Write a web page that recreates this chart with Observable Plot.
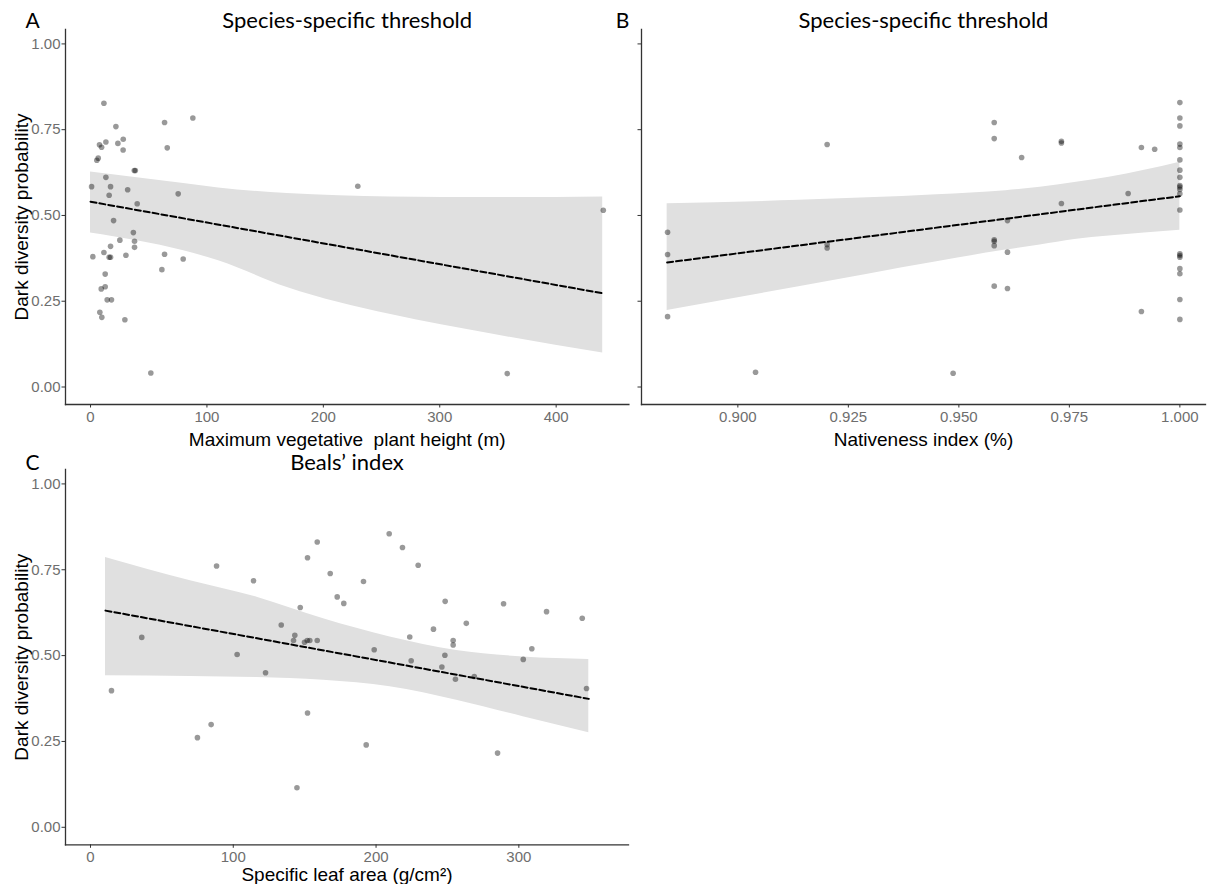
<!DOCTYPE html>
<html><head><meta charset="utf-8">
<script src="https://cdn.jsdelivr.net/npm/d3@7"></script>
<script src="https://cdn.jsdelivr.net/npm/@observablehq/plot@0.6"></script>
<style>
body{margin:0;background:#fff;}
#wrap{position:relative;width:1207px;height:884px;background:#fff;overflow:hidden;}
.panel{position:absolute;}
</style></head><body><div id="wrap"></div>
<script>
// ---------- Panel A: Maximum vegetative plant height ----------
const heightX = [11.5,21.8,7.7,9.5,13.2,23.5,28.1,28.0,5.4,6.6,37.6,38.5,0.9,13.2,17.2,16.0,31.9,40.1,75.3,19.8,36.8,37.8,37.8,25.2,17.2,11.5,2.0,16.0,17.2,30.4,63.6,61.3,79.6,12.6,9.2,12.6,14.3,18.0,8.0,9.7,29.5,51.8,63.6,65.9,87.9,229.6,358,440.5];
const heightProb = [0.827,0.759,0.706,0.699,0.714,0.71,0.722,0.691,0.661,0.667,0.631,0.631,0.584,0.611,0.584,0.559,0.575,0.534,0.563,0.485,0.45,0.425,0.407,0.428,0.41,0.392,0.38,0.378,0.378,0.384,0.387,0.342,0.373,0.329,0.286,0.292,0.254,0.254,0.218,0.203,0.196,0.041,0.771,0.697,0.784,0.585,0.039,0.515];
const heightBandX  = [0, 80, 110, 169, 258, 347, 440];
const heightBandLo = [0.449, 0.397, 0.368, 0.290, 0.211, 0.153, 0.099];
const heightBandHi = [0.627, 0.593, 0.580, 0.564, 0.554, 0.552, 0.554];
const heightFitX = [0, 440];
const heightFitY = [0.540, 0.273];

// ---------- Panel B: Nativeness index ----------
const nativeX = [0.8841,0.8841,0.8841,0.904,0.9202,0.9202,0.9202,0.9487,0.958,0.958,0.958,0.958,0.958,0.958,0.961,0.961,0.961,0.9642,0.9732,0.9732,0.9732,0.9883,0.9913,0.9913,0.9943,
  1,1,1,1,1,1,1,1,1,1,1,1,1,1,1,1,1,1,1,1];
const nativeProb = [0.451,0.386,0.205,0.043,0.707,0.415,0.405,0.040,0.771,0.724,0.429,0.425,0.412,0.294,0.485,0.393,0.287,0.669,0.716,0.711,0.535,0.564,0.698,0.22,0.693,
  0.829,0.784,0.761,0.708,0.698,0.662,0.632,0.611,0.587,0.583,0.576,0.563,0.516,0.388,0.383,0.378,0.345,0.33,0.255,0.197];
const nativeBandX  = [0.884, 0.9138, 0.945, 0.9606, 0.9684, 0.9762, 0.984, 1.0];
const nativeBandLo = [0.223, 0.292, 0.365, 0.399, 0.414, 0.430, 0.440, 0.457];
const nativeBandHi = [0.534, 0.544, 0.560, 0.572, 0.582, 0.596, 0.611, 0.655];
const nativeFitX = [0.884, 1.0];
const nativeFitY = [0.363, 0.556];

// ---------- Panel C: Specific leaf area ----------
const slaX = [14.7,35.9,74.9,84.5,88.3,102.7,114.2,122.6,133.6,143.1,142.2,146.9,144.6,152,152,158.8,149.9,151.8,153.6,158.8,167.9,172.8,177.4,191.2,193.1,198.7,209.2,218.5,229.5,223.6,224.6,240.2,248.4,248.2,246.1,254,254,255.6,263.2,268.8,285.1,289.3,303.1,309.1,319.4,344.4,347.4];
const slaProb = [0.398,0.553,0.261,0.299,0.761,0.503,0.718,0.45,0.589,0.559,0.544,0.64,0.115,0.785,0.333,0.831,0.539,0.544,0.544,0.544,0.739,0.671,0.652,0.716,0.24,0.517,0.855,0.815,0.763,0.554,0.485,0.577,0.658,0.501,0.467,0.544,0.531,0.431,0.594,0.439,0.216,0.651,0.489,0.52,0.628,0.609,0.404];
const slaBandX  = [10.5, 70, 116.6, 163.2, 209.8, 256.4, 303, 349];
const slaBandLo = [0.441, 0.439, 0.436, 0.428, 0.409, 0.370, 0.322, 0.275];
const slaBandHi = [0.786, 0.718, 0.670, 0.607, 0.554, 0.515, 0.496, 0.489];
const slaFitX = [10.5, 349];
const slaFitY = [0.631, 0.374];

// ---------- Labels ----------
const panelLetters = ["A", "B", "C"];
const panelTitles = ["Species-specific threshold", "Species-specific threshold", "Beals\u2019 index"];
const xTitles = ["Maximum vegetative  plant height (m)", "Nativeness index (%)", "Specific leaf area (g/cm\u00B2)"];
const yTitle = "Dark diversity probability";
const yTicks = [0, 0.25, 0.5, 0.75, 1];
const xTicksA = [0, 100, 200, 300, 400];
const xTicksB = [0.9, 0.925, 0.95, 0.975, 1.0];
const xTicksC = [0, 100, 200, 300];

const zip = (xs, ys) => xs.map((x, i) => ({x, y: ys[i]}));
const zipBand = (xs, lo, hi) => xs.map((x, i) => ({x, lo: lo[i], hi: hi[i]}));

const titleFont = "Lato, 'Open Sans', sans-serif";
const axisFont = "'Liberation Sans', Arial, sans-serif";

function panel(cfg) {
  const marks = [
    Plot.areaY(cfg.band, {x: "x", y1: "lo", y2: "hi", fill: "#e0e0e0", curve: "monotone-x"}),
    Plot.dot(cfg.points, {x: "x", y: "y", r: 2.8, fill: "#000", fillOpacity: 0.4, stroke: "none"}),
    Plot.line(cfg.fit, {x: "x", y: "y", stroke: "#000", strokeWidth: 2, strokeDasharray: "6,3"}),
    Plot.frame({anchor: "left", stroke: "#333", strokeWidth: 1.3}),
    Plot.frame({anchor: "bottom", stroke: "#333", strokeWidth: 1.3}),
    Plot.axisX({ticks: cfg.xTicks, tickFormat: cfg.xFormat, tickSize: 3.5, tickPadding: 3, fontSize: 15, fill: "#6e6e6e", stroke: "#333", label: null}),
    Plot.axisY({ticks: yTicks, tickFormat: cfg.showY ? d3.format(".2f") : () => "", tickSize: 3.5, tickPadding: 1.5, fontSize: 15, fill: "#6e6e6e", stroke: "#333", label: null}),
    Plot.text([cfg.title], {frameAnchor: "top", dy: cfg.titleDy, fontSize: 22, fontFamily: titleFont, fill: "#000", lineAnchor: "middle"}),
    Plot.text([cfg.letter], {frameAnchor: "top-left", dx: cfg.letterDx, dy: cfg.titleDy + 1, fontSize: 21, fontFamily: titleFont, fill: "#000", textAnchor: "middle", lineAnchor: "middle"}),
    Plot.text([cfg.xTitle], {frameAnchor: "bottom", dy: cfg.xTitleDy, fontSize: 19, fontFamily: axisFont, fill: "#000", lineAnchor: "middle"})
  ];
  if (cfg.showY) marks.push(Plot.text([yTitle], {frameAnchor: "left", dx: -44, rotate: -90, fontSize: 19, fontFamily: axisFont, fill: "#000", textAnchor: "middle", lineAnchor: "middle"}));
  const p = Plot.plot({
    width: cfg.width, height: cfg.height,
    marginLeft: cfg.ml, marginRight: cfg.mr, marginTop: cfg.mt, marginBottom: cfg.mb,
    x: {domain: cfg.xDomain, axis: null},
    y: {domain: [-0.051, 1.042], axis: null},
    style: {fontFamily: axisFont, background: "transparent", overflow: "visible"},
    marks
  });
  p.classList.add("panel");
  p.style.left = cfg.left + "px";
  p.style.top = cfg.top + "px";
  document.getElementById("wrap").appendChild(p);
}

panel({
  left: 0, top: 0, width: 640, height: 450, ml: 65, mr: 11.6, mt: 29, mb: 46,
  xDomain: [-21.5, 462.5], xTicks: xTicksA, xFormat: d3.format("d"),
  points: zip(heightX, heightProb), band: zipBand(heightBandX, heightBandLo, heightBandHi), fit: zip(heightFitX, heightFitY),
  title: panelTitles[0], titleDy: -9, letter: panelLetters[0], letterDx: -33, xTitle: xTitles[0], xTitleDy: 35, showY: true
});
panel({
  left: 600, top: 0, width: 607, height: 450, ml: 41, mr: 2, mt: 29, mb: 46,
  xDomain: [0.8782, 1.0058], xTicks: xTicksB, xFormat: d3.format(".3f"),
  points: zip(nativeX, nativeProb), band: zipBand(nativeBandX, nativeBandLo, nativeBandHi), fit: zip(nativeFitX, nativeFitY),
  title: panelTitles[1], titleDy: -9, letter: panelLetters[1], letterDx: -19, xTitle: xTitles[1], xTitleDy: 35, showY: false
});
panel({
  left: 0, top: 440, width: 640, height: 444, ml: 65, mr: 12, mt: 29, mb: 39.7,
  xDomain: [-17.5, 376.8], xTicks: xTicksC, xFormat: d3.format("d"),
  points: zip(slaX, slaProb), band: zipBand(slaBandX, slaBandLo, slaBandHi), fit: zip(slaFitX, slaFitY),
  title: panelTitles[2], titleDy: -7, letter: panelLetters[2], letterDx: -33, xTitle: xTitles[2], xTitleDy: 30, showY: true
});
</script>
</body></html>
